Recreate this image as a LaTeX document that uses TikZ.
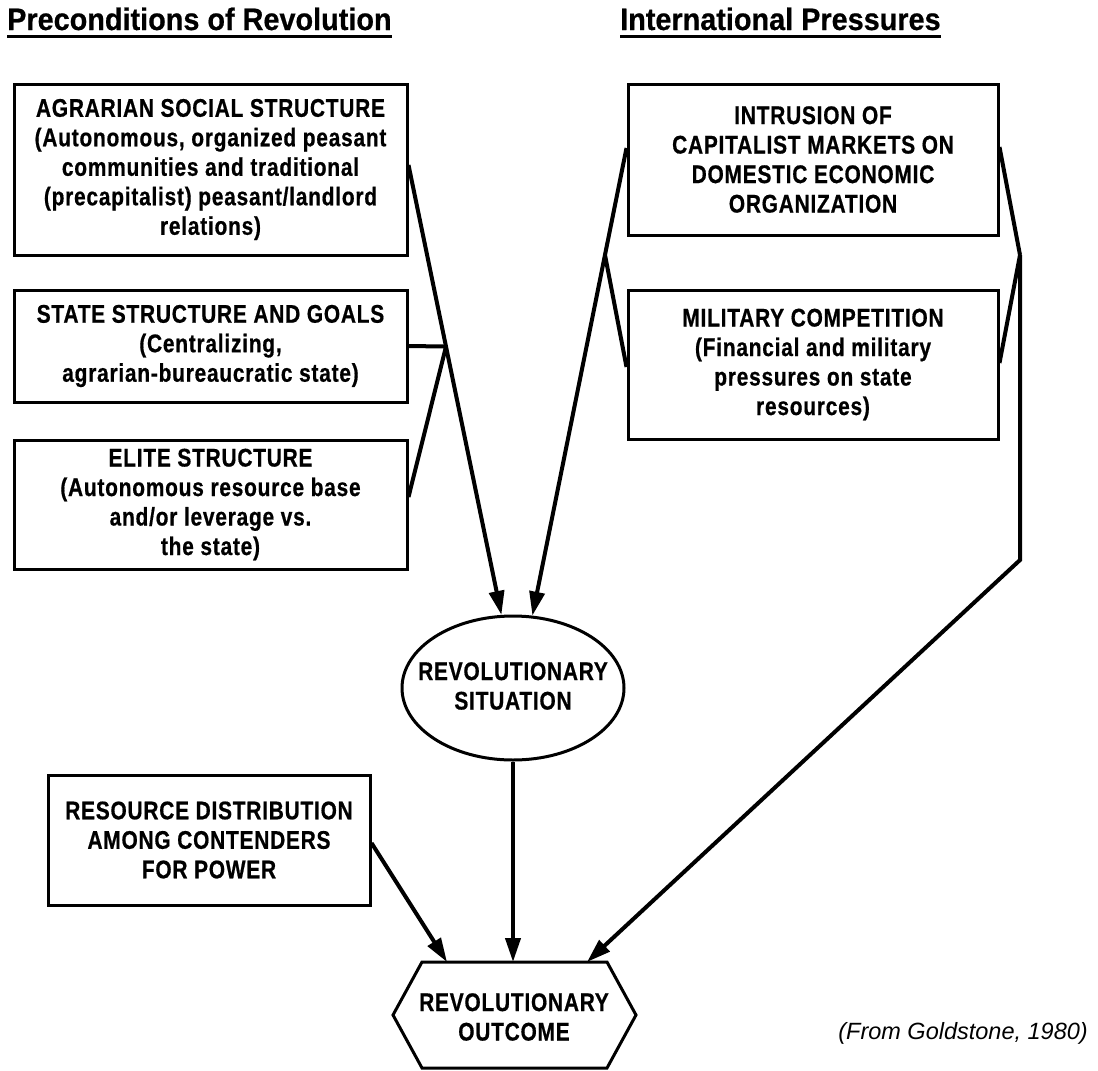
\documentclass[tikz,border=0pt]{standalone}
\usepackage{fontspec}
\setmainfont{Liberation Sans}
\newfontfamily\cfont{Liberation Sans}[FakeStretch=0.82, LetterSpace=3, BoldFeatures={FakeBold=0.6}]
\newfontfamily\hfont{Liberation Sans}[FakeStretch=0.93, BoldFeatures={FakeBold=0.6}]
\usetikzlibrary{arrows.meta,shapes.geometric,calc}
\begin{document}
\begin{tikzpicture}[x=1pt,y=-1pt,
  txt/.style={align=center, inner sep=0pt, font=\cfont\bfseries\fontsize{25.5}{29.5}\selectfont},
  box/.style={txt, draw, line width=3pt},
  conn/.style={line width=4pt, line join=miter},
  arr/.style={conn, -{Triangle[length=24pt,width=15pt]}},
  hdr/.style={anchor=base west, inner sep=0pt, font=\hfont\bfseries\fontsize{31}{36}\selectfont}]
\fill[white] (0,0) rectangle (1098,1071);
\useasboundingbox (0,0) rectangle (1098,1071);

% headers
\node[hdr] (h1) at (7,30) {Preconditions of Revolution};
\node[hdr] (h2) at (620,30) {International Pressures};
\draw[line width=3pt] ([yshift=-6pt]h1.base west) -- ([yshift=-6pt]h1.base east);
\draw[line width=3pt] ([yshift=-6pt]h2.base west) -- ([yshift=-6pt]h2.base east);

% left boxes
\node[box, minimum width=393pt, minimum height=171pt] (agr) at (210.5,169.5)
  {AGRARIAN SOCIAL STRUCTURE\\(Autonomous, organized peasant\\communities and traditional\\(precapitalist) peasant/landlord\\relations)};
\node[box, minimum width=393pt, minimum height=112pt] (sta) at (210.5,346)
  {STATE STRUCTURE AND GOALS\\(Centralizing,\\agrarian-bureaucratic state)};
\node[box, minimum width=393pt, minimum height=129pt] (eli) at (210.5,504.5)
  {ELITE STRUCTURE\\(Autonomous resource base\\and/or leverage vs.\\the state)};

% right boxes
\node[box, minimum width=370pt, minimum height=151pt] (intr) at (813,159.5)
  {INTRUSION OF\\CAPITALIST MARKETS ON\\DOMESTIC ECONOMIC\\ORGANIZATION};
\node[box, minimum width=370pt, minimum height=149pt] (mil) at (813,364.5)
  {MILITARY COMPETITION\\(Financial and military\\pressures on state\\resources)};

% revolutionary situation
\node[draw, line width=3pt, ellipse, inner sep=0pt, minimum width=222pt, minimum height=144pt] (sit) at (513,688) {};
\node[txt] (sittxt) at (513,686) {REVOLUTIONARY\\SITUATION};

% resource distribution
\node[box, minimum width=322pt, minimum height=130pt] (res) at (209,840)
  {RESOURCE DISTRIBUTION\\AMONG CONTENDERS\\FOR POWER};

% revolutionary outcome (hexagon)
\coordinate (x1) at (393,1015);
\coordinate (x2) at (422,962);
\coordinate (x3) at (607,962);
\coordinate (x4) at (636,1015);
\coordinate (x5) at (607,1068);
\coordinate (x6) at (422,1068);
\draw[line width=3pt, line join=miter] (x1) -- (x2) -- (x3) -- (x4) -- (x5) -- (x6) -- cycle;
\node[txt] (outc) at (514,1017) {REVOLUTIONARY\\OUTCOME};
\coordinate (t1) at (447,962);
\coordinate (t2) at (513,962);
\coordinate (t3) at (587,962);

% source note
\node[anchor=east, inner sep=0pt, font=\itshape\fontsize{23.5}{28}\selectfont] (src) at (1088,1033) {(From Goldstone, 1980)};

% connectors, left
\coordinate (a1) at ([yshift=4.5pt]agr.east);
\coordinate (a2) at (sit.99);
\coordinate (J1) at ($(a1)!0.4035!(a2)$);
\draw[arr] (a1) -- (a2);
\draw[conn] (sta.east) -- (J1);
\draw[conn] ([yshift=7.5pt]eli.east) -- (J1);

% connectors, right to situation
\coordinate (b1) at ([yshift=11.5pt]intr.west);
\coordinate (b2) at (sit.75);
\coordinate (J2) at ($(b1)!0.2286!(b2)$);
\draw[arr] (b1) -- (b2);
\draw[conn] ([yshift=-2.5pt]mil.west) -- (J2);

% right bracket to outcome
\coordinate (A) at (1020,255);
\coordinate (B) at (1020,560);
\draw[conn] ([yshift=12.5pt]intr.east) -- (A);
\draw[conn] ([yshift=1.5pt]mil.east) -- (A);
\draw[arr] (A) -- (B) -- (t3);

% to outcome
\draw[arr] (sit.south) -- (t2);
\draw[arr] ([yshift=-3pt]res.east) -- (t1);
\end{tikzpicture}
\end{document}
